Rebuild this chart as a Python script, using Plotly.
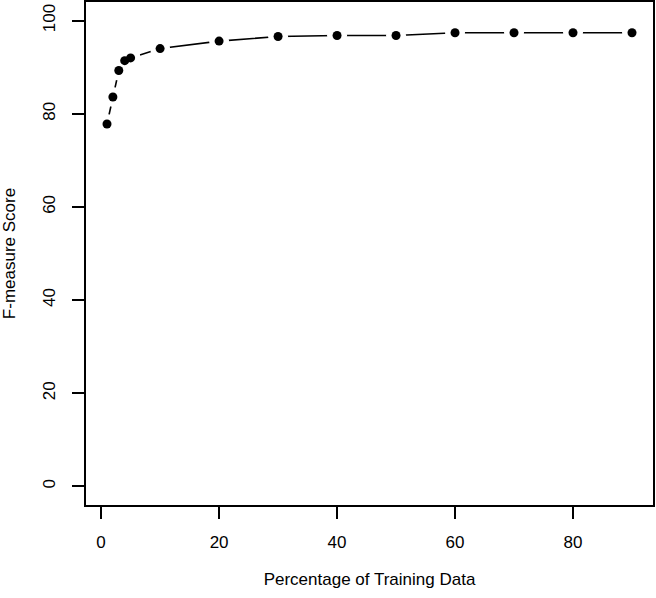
import plotly.graph_objects as go

# Data
train_pct = [1, 2, 3, 4, 5, 10, 20, 30, 40, 50, 60, 70, 80, 90]
f_measure = [77.8, 83.6, 89.3, 91.4, 92.0, 94.0, 95.6, 96.6, 96.8, 96.8, 97.4, 97.4, 97.4, 97.4]

x_ticks = [0, 20, 40, 60, 80]
y_ticks = [0, 20, 40, 60, 80, 100]

FONT = "Liberation Sans, Arial, sans-serif"

fig = go.Figure()
# connecting line (R type="b": gaps around points)
fig.add_trace(go.Scatter(x=train_pct, y=f_measure, mode="lines",
                         line=dict(color="black", width=1.6), hoverinfo="skip"))
# white halos produce the gaps around points
fig.add_trace(go.Scatter(x=train_pct, y=f_measure, mode="markers",
                         marker=dict(color="white", size=20, line=dict(width=0)), hoverinfo="skip"))
# points
fig.add_trace(go.Scatter(x=train_pct, y=f_measure, mode="markers",
                         marker=dict(color="black", size=9, line=dict(width=0))))

fig.update_layout(
    width=656, height=598,
    margin=dict(l=86, r=3, t=2, b=93, autoexpand=False),
    paper_bgcolor="white", plot_bgcolor="white",
    showlegend=False,
    font=dict(family=FONT, size=17, color="black"),
    xaxis=dict(range=[-2.56, 93.56], tickvals=x_ticks, ticktext=[str(v) for v in x_ticks],
               automargin=False,
               showgrid=False, zeroline=False, showline=True, linecolor="black", linewidth=2,
               mirror=True, ticks="outside", ticklen=12, tickwidth=2, tickcolor="black",
               ticklabelstandoff=9,
               title=dict(text="Percentage of Training Data", standoff=22,
                          font=dict(family=FONT, size=17))),
    yaxis=dict(range=[-4, 104], tickvals=y_ticks, ticktext=[str(v) for v in y_ticks],
               automargin=False,
               showgrid=False, zeroline=False, showline=True, linecolor="black", linewidth=2,
               mirror=True, ticks="outside", ticklen=12, tickwidth=2, tickcolor="black",
               tickangle=-90, ticklabelstandoff=10,
               title=dict(text="F-measure Score", standoff=24,
                          font=dict(family=FONT, size=17))),
)

fig.write_html("out.html", config={"displayModeBar": False},
               post_script="document.body.style.margin='0px';")
